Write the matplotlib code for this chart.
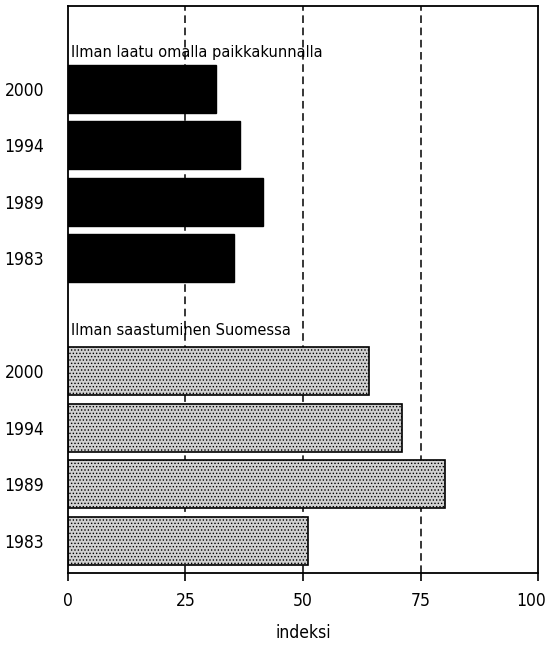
import matplotlib.pyplot as plt
import matplotlib as mpl
from matplotlib.transforms import ScaledTranslation

mpl.rcParams['hatch.color'] = '#7a7a7a'
mpl.rcParams['hatch.linewidth'] = 0.6
plt.rcParams['font.family'] = ['DejaVu Sans']
plt.rcParams['font.stretch'] = 'condensed'

# data
years = ['1983', '1989', '1994', '2000']
laatu = [35.3, 41.5, 36.5, 31.5]        # Ilman laatu omalla paikkakunnalla
saastuminen = [51.0, 80.1, 71.0, 64.0]  # Ilman saastuminen Suomessa
xticks = [0, 25, 50, 75, 100]

pos_grey = [0, 1, 2, 3]
pos_black = [5, 6, 7, 8]

fig = plt.figure(figsize=(5.47, 6.46), dpi=100)
ax = fig.add_axes([0.124, 0.113, 0.86, 0.878])

for x in [25, 50, 75]:
    ax.axvline(x, color='black', linestyle=(0, (5, 3)), linewidth=1.1, zorder=0)

ax.barh(pos_black, laatu, height=0.85, color='black', edgecolor='black', zorder=2)
ax.barh(pos_grey, saastuminen, height=0.85, color='#d0d0d0', edgecolor='black',
        linewidth=1.2, hatch='.....', zorder=2)

ax.text(0.6, 8.64, 'Ilman laatu omalla paikkakunnalla', fontsize=11.7, va='center', zorder=3)
ax.text(0.6, 3.73, 'Ilman saastuminen Suomessa', fontsize=11.7, va='center', zorder=3)

ax.set_xlim(0, 100)
ax.set_ylim(-0.57, 9.47)
ax.set_xticks(xticks)
ax.set_xticklabels([str(v) for v in xticks], fontsize=12.5)
ax.set_yticks(pos_grey + pos_black)
ax.set_yticklabels(years + years, fontsize=12.5)
ax.tick_params(axis='y', length=0, pad=17)
ax.tick_params(axis='x', length=6, width=1.2, direction='out', pad=8)
for s in ax.spines.values():
    s.set_linewidth(1.3)
ax.set_xlabel('indeksi', fontsize=12.5, labelpad=10)

# keep "100" inside the picture
last = ax.get_xticklabels()[-1]
last.set_transform(last.get_transform() + ScaledTranslation(-5 / 72, 0, fig.dpi_scale_trans))

plt.savefig('out.png', dpi=100)
